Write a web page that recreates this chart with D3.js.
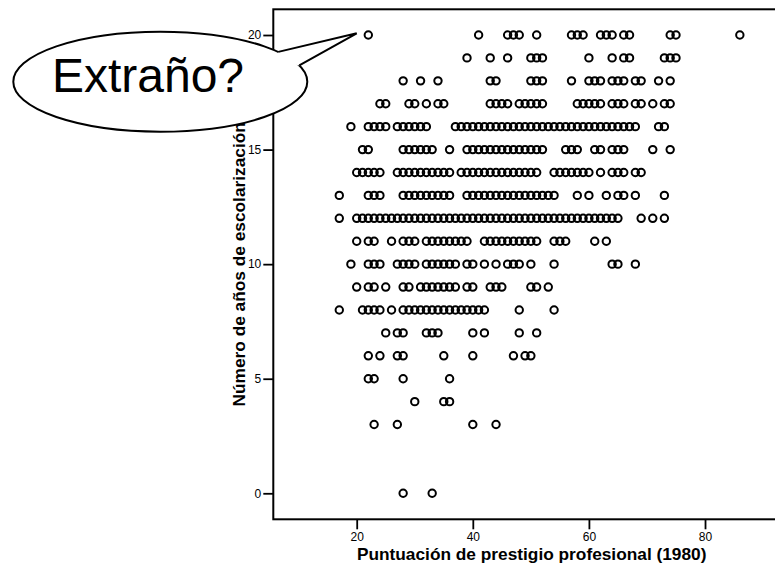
<!DOCTYPE html>
<html>
<head>
<meta charset="utf-8">
<script src="https://cdn.jsdelivr.net/npm/d3@7"></script>
<style>
    body { margin: 0; background: #fff; }
    svg { display: block; font-family: "Liberation Sans", Arial, sans-serif; }
</style>
</head>
<body>
<svg id="chart" width="775" height="567"></svg>
<script>
// prestige scores (prestg80) seen on each row of years of schooling (educ)
var educ20 = [22, 41, 46, 47, 48, 51, 57, 58, 59, 62, 63, 64, 66, 67, 74, 75, 86];
var educ19 = [39, 43, 46, 50, 51, 52, 60, 64, 66, 67, 73, 74, 75];
var educ18 = [28, 31, 34, 43, 44, 50, 51, 52, 57, 60, 61, 62, 64, 65, 66, 68, 69, 72, 74];
var educ17 = [24, 25, 29, 30, 32, 34, 35, 43, 44, 45, 46, 48, 49, 50, 51, 52, 58, 59, 60, 61, 62,
    64, 65, 66, 68, 69, 71, 73, 74];
var educ16 = [19, 22, 23, 24, 25, 27, 28, 29, 30, 31, 32, 37, 38, 39, 40, 41, 42, 43, 44, 45, 46,
    47, 48, 49, 50, 51, 52, 53, 54, 55, 56, 57, 58, 59, 60, 61, 62, 63, 64, 65, 66, 67, 68, 72, 73];
var educ15 = [21, 22, 28, 29, 30, 31, 32, 33, 36, 39, 40, 41, 42, 43, 44, 45, 46, 47, 48, 49, 50,
    51, 52, 56, 57, 58, 61, 62, 64, 65, 66, 71, 74];
var educ14 = [20, 21, 22, 23, 24, 27, 28, 29, 30, 31, 32, 33, 34, 35, 36, 38, 39, 40, 41, 42, 43,
    44, 45, 46, 47, 48, 49, 50, 51, 54, 55, 56, 57, 58, 59, 60, 62, 64, 65, 66, 68, 69];
var educ13 = [17, 22, 23, 24, 28, 29, 30, 31, 32, 33, 34, 35, 36, 39, 40, 41, 42, 43, 44, 45, 46,
    47, 48, 49, 50, 51, 52, 53, 54, 58, 60, 63, 65, 66, 68, 73];
var educ12 = [17, 20, 21, 22, 23, 24, 25, 26, 27, 28, 29, 30, 31, 32, 33, 34, 35, 36, 37, 38, 39,
    40, 41, 42, 43, 44, 45, 46, 47, 48, 49, 50, 51, 52, 53, 54, 55, 56, 57, 58, 59, 60, 61, 62, 63,
    64, 65, 69, 71, 73];
var educ11 = [20, 22, 23, 26, 28, 29, 30, 32, 33, 34, 35, 36, 37, 38, 39, 42, 43, 44, 45, 46, 47,
    48, 49, 50, 51, 54, 55, 56, 61, 63];
var educ10 = [19, 22, 23, 24, 27, 28, 29, 30, 32, 33, 34, 35, 36, 37, 39, 40, 42, 44, 46, 47, 48,
    50, 54, 64, 65, 68];
var educ9 = [20, 22, 23, 25, 28, 29, 31, 32, 33, 34, 35, 36, 37, 39, 40, 43, 44, 45, 50, 51, 53];
var educ8 = [17, 21, 22, 23, 24, 26, 28, 29, 30, 31, 32, 33, 34, 35, 36, 37, 38, 39, 40, 41, 42,
    48, 54];
var educ7 = [25, 27, 28, 32, 33, 34, 40, 42, 48, 51];
var educ6 = [22, 24, 27, 28, 35, 40, 47, 49, 50];
var educ5 = [22, 23, 28, 36];
var educ4 = [30, 35, 36];
var educ3 = [23, 27, 40, 44];
var educ0 = [28, 33];

var educLevels = [20, 19, 18, 17, 16, 15, 14, 13, 12, 11, 10, 9, 8, 7, 6, 5, 4, 3, 0];
var educRows = [educ20, educ19, educ18, educ17, educ16, educ15, educ14, educ13, educ12, educ11,
    educ10, educ9, educ8, educ7, educ6, educ5, educ4, educ3, educ0];

var xTicks = [20, 40, 60, 80];
var yTicks = [0, 5, 10, 15, 20];
var oddPoint = [22, 20];

var xTitle = "Puntuación de prestigio profesional (1980)";
var yTitle = "Número de años de escolarización";
var calloutText = "Extraño?";

(function () {
    var svg = d3.select("#chart");
    var left = 273.3, right = 790, top = 9.3, bottom = 519.3;

    var x = d3.scaleLinear().domain([5.633, 94.64]).range([left, right]);
    var y = d3.scaleLinear().domain([-1.135, 21.122]).range([bottom, top]);

    var points = [];
    educRows.forEach(function (row, i) {
        row.forEach(function (p) {
            points.push({educ: educLevels[i], prestige: p});
        });
    });

    //--axes (domain lines replaced by the frame)
    var xAxis = svg.append("g")
        .attr("transform", "translate(0," + bottom + ")")
        .call(d3.axisBottom(x).tickValues(xTicks).tickSize(10).tickPadding(3));
    var yAxis = svg.append("g")
        .attr("transform", "translate(" + left + ",0)")
        .call(d3.axisLeft(y).tickValues(yTicks).tickSize(10).tickPadding(2));
    [xAxis, yAxis].forEach(function (ax) {
        ax.select(".domain").remove();
        ax.selectAll(".tick line").attr("stroke", "#000").attr("stroke-width", 1.8);
        ax.selectAll(".tick text")
            .attr("fill", "#000")
            .style("font-family", "'Liberation Sans', Arial, sans-serif")
            .style("font-size", "12px");
    });

    svg.append("rect")
        .attr("x", left).attr("y", top)
        .attr("width", right - left).attr("height", bottom - top)
        .attr("fill", "none").attr("stroke", "#000").attr("stroke-width", 2);

    svg.append("text")
        .attr("x", 531.7).attr("y", 560)
        .attr("text-anchor", "middle")
        .style("font-weight", "bold").style("font-size", "17.3px")
        .text(xTitle);

    svg.append("text")
        .attr("transform", "translate(245," + ((top + bottom) / 2) + ") rotate(-90)")
        .attr("text-anchor", "middle")
        .style("font-weight", "bold").style("font-size", "17.3px")
        .text(yTitle);

    svg.append("g").selectAll("circle")
        .data(points)
        .join("circle")
        .attr("cx", function (d) { return x(d.prestige); })
        .attr("cy", function (d) { return y(d.educ); })
        .attr("r", 3.7)
        .attr("fill", "none")
        .attr("stroke", "#000")
        .attr("stroke-width", 2);

    //--speech bubble pointing at the odd case
    var cx = 160.3, cy = 81.7, rx = 147, ry = 50;
    var onEllipse = function (deg, k) {
        var t = deg * Math.PI / 180;
        return [cx + k * rx * Math.cos(t), cy + k * ry * Math.sin(t)];
    };
    var tip = [x(oddPoint[0]) - 11.6, y(oddPoint[1]) - 1.7];
    var p1 = onEllipse(-36.6, 1), p2 = onEllipse(-19, 1);

    var bubble = svg.append("g");
    bubble.append("ellipse")
        .attr("cx", cx).attr("cy", cy).attr("rx", rx).attr("ry", ry)
        .attr("fill", "#fff").attr("stroke", "#000").attr("stroke-width", 2);
    bubble.append("path")
        .attr("d", d3.line()([p1, tip, p2, onEllipse(-28, 0.9)]) + "Z")
        .attr("fill", "#fff");
    bubble.append("path")
        .attr("d", d3.line()([p1, tip, p2]))
        .attr("fill", "none").attr("stroke", "#000").attr("stroke-width", 2);
    bubble.append("text")
        .attr("x", 148).attr("y", 91.7)
        .attr("text-anchor", "middle")
        .style("font-size", "48px")
        .text(calloutText);
})();
</script>
</body>
</html>
